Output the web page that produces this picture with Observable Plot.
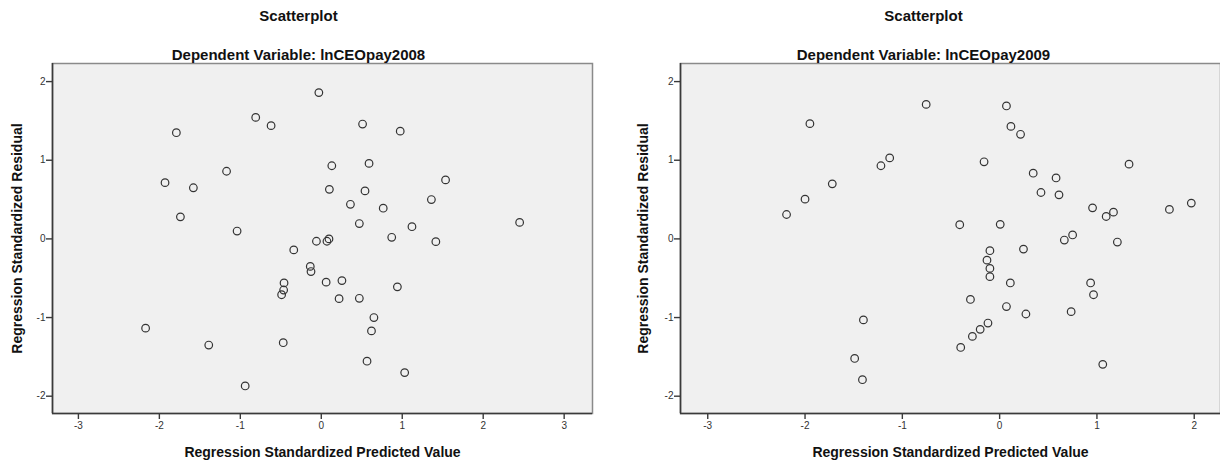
<!DOCTYPE html>
<html>
<head>
<meta charset="utf-8">
<script src="https://cdn.jsdelivr.net/npm/d3@7"></script>
<script src="https://cdn.jsdelivr.net/npm/@observablehq/plot@0.6"></script>
<style>
  html, body { margin: 0; padding: 0; background: #fff; }
  #wrap { position: relative; width: 1220px; height: 463px; overflow: hidden; font-family: "Liberation Sans", Arial, sans-serif; }
  .panel { position: absolute; top: 0; }
  svg { overflow: visible; }
</style>
</head>
<body>
<div id="wrap">
  <div class="panel" id="p1" style="left:0px"></div>
  <div class="panel" id="p2" style="left:610px"></div>
</div>
<script>
// ---- Data ----
const title = "Scatterplot";
const subtitle2008 = "Dependent Variable: lnCEOpay2008";
const subtitle2009 = "Dependent Variable: lnCEOpay2009";
const xLabel = "Regression Standardized Predicted Value";
const yLabel = "Regression Standardized Residual";

const xTicks2008 = [-3, -2, -1, 0, 1, 2, 3];
const xTicks2009 = [-3, -2, -1, 0, 1, 2];
const yTicks = [-2, -1, 0, 1, 2];

const xDomain2008 = [-3.32, 3.35];
const xDomain2009 = [-3.28, 2.27];
const yDomain = [-2.22, 2.23];

const pred2008 = [-1.79, -0.81, -0.62, -1.17, -1.93, -1.58, -1.74, -1.04, -0.34,
  -0.03, 0.51, 0.975, 0.13, 0.59, 1.535, 0.10, 0.54, 1.36, 0.36, 0.765, 0.47, 1.12, 2.45, 0.87, -0.06, 0.07, 0.095, 1.415,
  -0.136, -0.127, -0.46, -0.465, -0.49, -2.17, -1.39, -0.47, -0.94,
  0.06, 0.255, 0.94, 0.22, 0.47, 0.65, 0.62, 0.565, 1.03];
const res2008 = [1.35, 1.545, 1.44, 0.86, 0.715, 0.65, 0.28, 0.10, -0.14,
  1.86, 1.46, 1.37, 0.93, 0.96, 0.75, 0.63, 0.61, 0.50, 0.44, 0.39, 0.195, 0.155, 0.21, 0.02, -0.03, -0.03, 0.0, -0.035,
  -0.35, -0.415, -0.56, -0.65, -0.71, -1.135, -1.35, -1.32, -1.87,
  -0.55, -0.53, -0.61, -0.76, -0.755, -1.00, -1.17, -1.555, -1.70];

const pred2009 = [-1.95, -1.13, -1.22, -1.72, -2.0, -2.19,
  -0.755, 0.07, 0.116, 0.215, -0.16, 1.33, 0.345, 0.58, 0.425, 0.61, 0.955, 1.095, 1.17, 1.745, 1.97, -0.41, 0.006, 0.665, 0.75, 1.21, -0.10, 0.245,
  -0.13, -0.10, -0.10, 0.11, 0.935, 0.965, -0.30, 0.07, 0.27, 0.735, -0.12, -0.20, -0.28, -0.40, 1.06,
  -1.40, -1.49, -1.41];
const res2009 = [1.465, 1.03, 0.93, 0.70, 0.505, 0.31,
  1.71, 1.69, 1.43, 1.33, 0.98, 0.95, 0.835, 0.775, 0.59, 0.56, 0.395, 0.285, 0.34, 0.375, 0.455, 0.18, 0.185, -0.015, 0.05, -0.04, -0.15, -0.13,
  -0.27, -0.375, -0.48, -0.56, -0.56, -0.71, -0.77, -0.86, -0.955, -0.925, -1.07, -1.15, -1.24, -1.38, -1.595,
  -1.03, -1.52, -1.79];

function panel(pred, res, subtitle, xDomain, xTicks, opts) {
  const data = pred.map((p, i) => ({x: p, y: res[i]}));
  const font = "Liberation Sans, Arial, sans-serif";
  return Plot.plot({
    width: 610,
    height: 463,
    marginTop: 63,
    marginBottom: 50,
    marginLeft: opts.marginLeft,
    marginRight: opts.marginRight,
    style: {fontFamily: font, background: "transparent", overflow: "visible"},
    x: {domain: xDomain},
    y: {domain: yDomain},
    marks: [
      Plot.frame({fill: "#f0f0f0", stroke: "#8a8a8a", strokeWidth: 1.5}),
      Plot.ruleX([xDomain[0]], {stroke: "#3a3a3a", strokeWidth: 1.6}),
      Plot.ruleY([yDomain[0]], {stroke: "#3a3a3a", strokeWidth: 1.6}),
      Plot.axisX({ticks: xTicks, tickFormat: d => String(d), tickSize: 6, tickPadding: 2,
        fontSize: 10, stroke: "#3a3a3a", fill: "#333", label: null, strokeWidth: 1.4}),
      Plot.axisY({ticks: yTicks, tickFormat: d => String(d), tickSize: 6, tickPadding: 1,
        fontSize: 10, stroke: "#3a3a3a", fill: "#333", label: null, strokeWidth: 1.4}),
      Plot.dot(data, {x: "x", y: "y", r: 3.8, stroke: "#333", strokeWidth: 1.2, fill: "none"}),
      Plot.text([title], {text: d => d, frameAnchor: "top", dx: opts.titleDx, dy: -47,
        fontSize: 15, fontWeight: "bold", fill: "#111", lineAnchor: "middle"}),
      Plot.text([subtitle], {text: d => d, frameAnchor: "top", dx: opts.titleDx, dy: -8,
        fontSize: 15, fontWeight: "bold", fill: "#111", lineAnchor: "middle"}),
      Plot.text([xLabel], {text: d => d, frameAnchor: "bottom", dy: 39,
        fontSize: 14, fontWeight: "bold", fill: "#111", lineAnchor: "middle"}),
      Plot.text([yLabel], {text: d => d, frameAnchor: "left", textAnchor: "middle", dx: opts.yLabelDx, rotate: -90,
        fontSize: 14, fontWeight: "bold", fill: "#111", lineAnchor: "middle"})
    ]
  });
}

document.getElementById("p1").appendChild(
  panel(pred2008, res2008, subtitle2008, xDomain2008, xTicks2008,
    {marginLeft: 52, marginRight: 18, titleDx: -24, yLabelDx: -35}));
document.getElementById("p2").appendChild(
  panel(pred2009, res2009, subtitle2009, xDomain2009, xTicks2009,
    {marginLeft: 70, marginRight: 0, titleDx: -27, yLabelDx: -37}));
</script>
</body>
</html>
